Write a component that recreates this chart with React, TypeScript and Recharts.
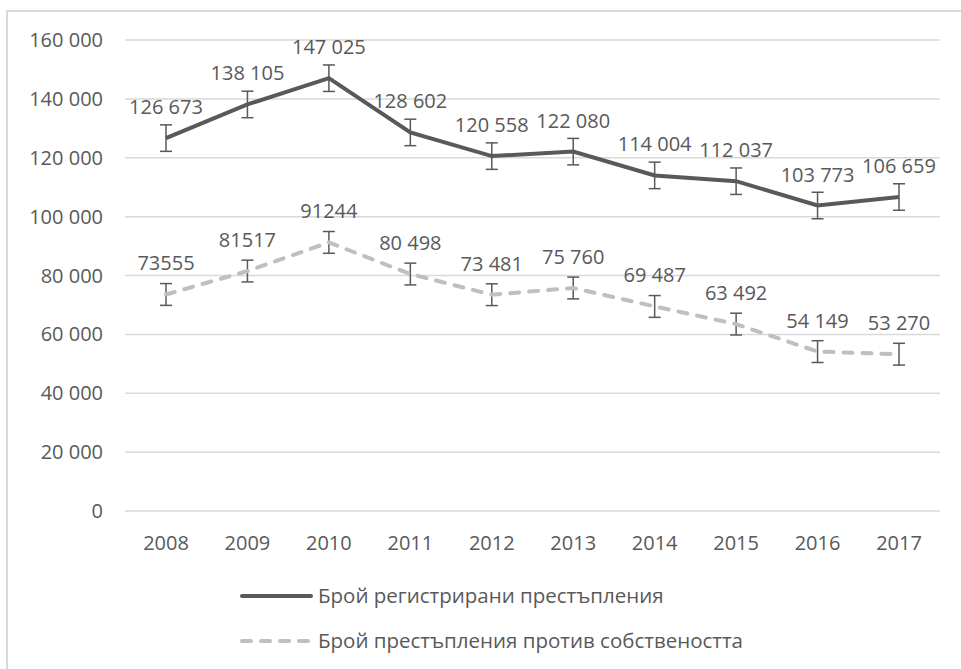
import React from 'react';
import { LineChart, Line, XAxis, YAxis, CartesianGrid, ErrorBar, LabelList, Legend } from 'recharts';

const years = ['2008', '2009', '2010', '2011', '2012', '2013', '2014', '2015', '2016', '2017'];
const registered = [126673, 138105, 147025, 128602, 120558, 122080, 114004, 112037, 103773, 106659];
const property = [73555, 81517, 91244, 80498, 73481, 75760, 69487, 63492, 54149, 53270];
const registeredLabels = ['126 673', '138 105', '147 025', '128 602', '120 558', '122 080', '114 004', '112 037', '103 773', '106 659'];
const propertyLabels = ['73555', '81517', '91244', '80 498', '73 481', '75 760', '69 487', '63 492', '54 149', '53 270'];
const registeredError = 4500;
const propertyError = 3700;
const yTicks = [0, 20000, 40000, 60000, 80000, 100000, 120000, 140000, 160000];
const seriesNames = ['Брой регистрирани престъпления', 'Брой престъпления против собствеността'];

const data = years.map((year, i) => ({
  year,
  registered: registered[i],
  property: property[i],
  regErr: registeredError,
  propErr: propertyError,
  regLabel: registeredLabels[i],
  propLabel: propertyLabels[i],
}));

const FONT = '"Open Sans", sans-serif';
const TEXT = '#595959';
const DARK = '#595959';
const LIGHT = '#bfbfbf';

const fmt = (v: number) => (v === 0 ? '0' : String(v).replace(/\B(?=(\d{3})+(?!\d))/g, ' '));

const renderLabel = (props: any) => {
  const { x, y, value } = props;
  return (
    <text x={x} y={y - 24} textAnchor="middle" fill={TEXT} fontSize={20} fontFamily={FONT}>
      {value}
    </text>
  );
};

const LegendContent = () => (
  <svg width={961} height={90}>
    <line x1={242} x2={311} y1={21} y2={21} stroke={DARK} strokeWidth={4} strokeLinecap="round" />
    <text x={318} y={28} fill={TEXT} fontSize={20.5} fontFamily={FONT}>{seriesNames[0]}</text>
    <line x1={242} x2={311} y1={66} y2={66} stroke={LIGHT} strokeWidth={4} strokeLinecap="round" strokeDasharray="9 10" />
    <text x={318} y={73} fill={TEXT} fontSize={20.5} fontFamily={FONT}>{seriesNames[1]}</text>
  </svg>
);

export default function App() {
  return (
    <div style={{ position: 'absolute', left: 0, top: 0, width: 961, height: 669, overflow: 'hidden', background: '#fff' }}>
      <div style={{ position: 'absolute', left: 6, top: 10, width: 1000, height: 1000, border: '2px solid #d9d9d9', boxSizing: 'border-box' }} />
      <div style={{ position: 'absolute', left: 0, top: 0 }}>
        <LineChart width={961} height={669} data={data} margin={{ top: 40, right: 21, left: 20, bottom: 128 }}>
          <CartesianGrid vertical={false} stroke="#d9d9d9" strokeWidth={1.5} />
          <XAxis
            dataKey="year"
            axisLine={false}
            tickLine={false}
            tickSize={0}
            tickMargin={25}
            height={30}
            padding={{ left: 41, right: 41 }}
            tick={{ fill: TEXT, fontSize: 20, fontFamily: FONT }}
            interval={0}
          />
          <YAxis
            domain={[0, 160000]}
            ticks={yTicks}
            allowDataOverflow
            axisLine={false}
            tickLine={false}
            tickSize={0}
            tickMargin={22}
            width={105}
            tickFormatter={fmt}
            tick={{ fill: TEXT, fontSize: 20, fontFamily: FONT }}
          />
          <Line
            dataKey="registered"
            name={seriesNames[0]}
            stroke={DARK}
            strokeWidth={4}
            dot={false}
            isAnimationActive={false}
          >
            <ErrorBar dataKey="regErr" direction="y" width={6} stroke={DARK} strokeWidth={1.5} isAnimationActive={false} />
            <LabelList dataKey="regLabel" content={renderLabel} />
          </Line>
          <Line
            dataKey="property"
            name={seriesNames[1]}
            stroke={LIGHT}
            strokeWidth={4}
            strokeDasharray="9 10"
            strokeLinecap="round"
            dot={false}
            isAnimationActive={false}
          >
            <ErrorBar dataKey="propErr" direction="y" width={6} stroke={DARK} strokeWidth={1.5} isAnimationActive={false} />
            <LabelList dataKey="propLabel" content={renderLabel} />
          </Line>
          <Legend
            layout="vertical"
            align="center"
            verticalAlign="middle"
            wrapperStyle={{ left: 0, top: 575, width: 961, height: 90 }}
            content={LegendContent}
          />
        </LineChart>
      </div>
    </div>
  );
}
